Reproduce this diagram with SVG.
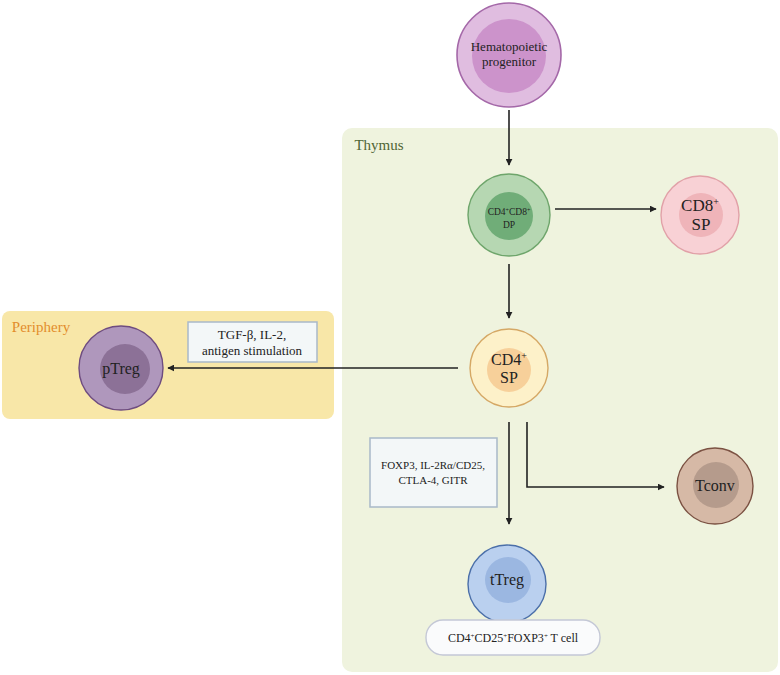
<svg xmlns="http://www.w3.org/2000/svg" width="780" height="675" viewBox="0 0 780 675">
<style>
text{font-family:"Liberation Serif","DejaVu Serif",serif;fill:#222;text-anchor:middle}
.ln{stroke:#222;stroke-width:1.6;fill:none}
.box{fill:#f3f7f8;stroke:#a9b9c9;stroke-width:1.5}
</style>
<defs>
<marker id="ah" viewBox="0 0 10 10" refX="9" refY="5" markerWidth="7" markerHeight="7" orient="auto" markerUnits="userSpaceOnUse">
<path d="M0,0 L10,5 L0,10 Z" fill="#222"/>
</marker>
</defs>
<rect width="780" height="675" fill="#fff"/>
<g id="thymus">
<rect x="342" y="128" width="436" height="544" rx="10" fill="#eff3de"/>
<text x="379" y="150" style="font-size:15px;fill:#4f6535">Thymus</text>
</g>
<g id="periphery">
<rect x="2" y="311" width="332" height="108" rx="8" fill="#f8e7a8"/>
<text x="41" y="332" style="font-size:15px;fill:#e38d2c">Periphery</text>
</g>
<g id="connectors">
<line class="ln" x1="509" y1="110" x2="509" y2="165" marker-end="url(#ah)"/>
<line class="ln" x1="555" y1="209" x2="656" y2="209" marker-end="url(#ah)"/>
<line class="ln" x1="509" y1="264" x2="509" y2="318" marker-end="url(#ah)"/>
<line class="ln" x1="458" y1="368" x2="168" y2="368" marker-end="url(#ah)"/>
<line class="ln" x1="509" y1="422" x2="509" y2="524" marker-end="url(#ah)"/>
<polyline class="ln" points="527,422 527,487 664,487" marker-end="url(#ah)"/>
</g>
<g id="hematopoietic">
<circle cx="509" cy="55" r="52" fill="#e0bde0" stroke="#a468a8" stroke-width="1.6"/>
<circle cx="509" cy="56" r="37" fill="#cc93cb"/>
<text x="509" y="51" style="font-size:13px">Hematopoietic</text>
<text x="509" y="66" style="font-size:13px">progenitor</text>
</g>
<g id="dp">
<circle cx="509" cy="215" r="41" fill="#b6d7b2" stroke="#6ea56b" stroke-width="1.4"/>
<circle cx="509" cy="216" r="24" fill="#70ad78"/>
<text x="509" y="215" style="font-size:9.5px">CD4<tspan dy="-3" style="font-size:6px">+</tspan><tspan dy="3">CD8</tspan><tspan dy="-3" style="font-size:6px">+</tspan></text>
<text x="509" y="228" style="font-size:9.5px">DP</text>
</g>
<g id="cd8sp">
<circle cx="700" cy="215" r="39" fill="#f8d1d5" stroke="#e1a1a8" stroke-width="1.4"/>
<circle cx="701" cy="215" r="22" fill="#efb4b9"/>
<text x="700" y="211" style="font-size:17px">CD8<tspan dy="-6" style="font-size:10px">+</tspan></text>
<text x="701" y="230" style="font-size:17px">SP</text>
</g>
<g id="cd4sp">
<circle cx="509" cy="368" r="39" fill="#fdf1c9" stroke="#d5a865" stroke-width="1.4"/>
<circle cx="509" cy="370" r="22" fill="#f7d09a"/>
<text x="509" y="365" style="font-size:16px">CD4<tspan dy="-6" style="font-size:10px">+</tspan></text>
<text x="509" y="383" style="font-size:16px">SP</text>
</g>
<g id="ptreg">
<circle cx="121" cy="368" r="42" fill="#af97bc" stroke="#6e4c80" stroke-width="1.4"/>
<circle cx="125" cy="369" r="25" fill="#8c7197"/>
<text x="121" y="374" style="font-size:16px">pTreg</text>
</g>
<g id="tgf">
<rect class="box" x="188" y="322" width="129" height="40"/>
<text x="252" y="339" style="font-size:13px">TGF-β, IL-2,</text>
<text x="252" y="355" style="font-size:13px">antigen stimulation</text>
</g>
<g id="foxp3">
<rect class="box" x="370" y="438" width="127" height="69"/>
<text x="433" y="469" style="font-size:11px">FOXP3, IL-2Rα/CD25,</text>
<text x="433" y="484" style="font-size:11px">CTLA-4, GITR</text>
</g>
<g id="tconv">
<circle cx="715" cy="486" r="38" fill="#d6b9a6" stroke="#7b5142" stroke-width="1.4"/>
<circle cx="716" cy="485" r="23" fill="#b59b8c"/>
<text x="715" y="491" style="font-size:16px">Tconv</text>
</g>
<g id="ttreg">
<circle cx="507" cy="584" r="39" fill="#bad0ef" stroke="#4b6fa9" stroke-width="1.4"/>
<circle cx="508" cy="580" r="23" fill="#9bb7e1"/>
<text x="507" y="585" style="font-size:16px">tTreg</text>
</g>
<g id="cd25label">
<rect x="426" y="620" width="174" height="35" rx="17" fill="#fafbfc" stroke="#c4c8d6" stroke-width="1.4"/>
<text x="513" y="642" style="font-size:12px">CD4<tspan dy="-4" style="font-size:7px">+</tspan><tspan dy="4">CD25</tspan><tspan dy="-4" style="font-size:7px">+</tspan><tspan dy="4">FOXP3</tspan><tspan dy="-4" style="font-size:7px">+</tspan><tspan dy="4"> T cell</tspan></text>
</g>
</svg>
